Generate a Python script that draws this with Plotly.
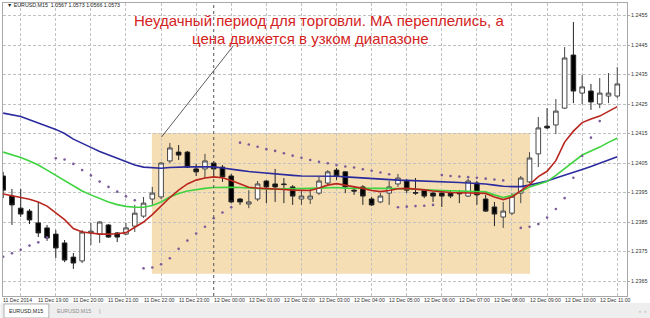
import plotly.graph_objects as go

# ---------------- data (EURUSD M15, 11 Dec 18:00 .. 12 Dec 11:30) ----------------
IDX = list(range(71))

OPEN = [1.24006, 1.23938, 1.23897, 1.23887, 1.23847, 1.23830, 1.23809, 1.23779, 1.23731, 1.23718,
        1.23813, 1.23809, 1.23840, 1.23813, 1.23809, 1.23836, 1.23870, 1.23928, 1.23935, 1.24057,
        1.24087, 1.24087, 1.24030, 1.24030, 1.24050, 1.24036, 1.24006, 1.23928, 1.23911, 1.23928,
        1.23989, 1.23979, 1.23979, 1.23969, 1.23928, 1.23928, 1.23948, 1.23982, 1.24026, 1.24020,
        1.23958, 1.23969, 1.23928, 1.23918, 1.23948, 1.23979, 1.23989, 1.23950, 1.23958, 1.23948,
        1.23948, 1.23948, 1.23948, 1.23938, 1.23982, 1.23928, 1.23901, 1.23867, 1.23880, 1.23948,
        1.23986, 1.24081, 1.24175, 1.24179, 1.24236, 1.24416, 1.24287, 1.24294, 1.24250, 1.24277,
        1.24277]

HIGH = [1.24020, 1.23962, 1.23962, 1.23894, 1.23918, 1.23840, 1.23823, 1.23789, 1.23745, 1.23823,
        1.23847, 1.23853, 1.23843, 1.23816, 1.23847, 1.23908, 1.23935, 1.23969, 1.24053, 1.24118,
        1.24111, 1.24091, 1.24047, 1.24081, 1.24057, 1.24043, 1.24013, 1.23931, 1.23958, 1.23989,
        1.23992, 1.24030, 1.23999, 1.23975, 1.23958, 1.23962, 1.24003, 1.24026, 1.24033, 1.24023,
        1.23972, 1.23975, 1.23935, 1.23948, 1.23989, 1.24013, 1.23996, 1.23999, 1.23962, 1.23952,
        1.23952, 1.23955, 1.23958, 1.23996, 1.23989, 1.23942, 1.23918, 1.23918, 1.23948, 1.24006,
        1.24087, 1.24206, 1.24236, 1.24267, 1.24443, 1.24528, 1.24348, 1.24318, 1.24338, 1.24355,
        1.24375]

LOW = [1.23931, 1.23840, 1.23867, 1.23843, 1.23799, 1.23786, 1.23728, 1.23714, 1.23691, 1.23711,
       1.23772, 1.23779, 1.23796, 1.23782, 1.23806, 1.23816, 1.23864, 1.23908, 1.23928, 1.24050,
       1.24060, 1.24033, 1.24006, 1.23999, 1.24006, 1.23986, 1.23914, 1.23908, 1.23897, 1.23921,
       1.23914, 1.23918, 1.23914, 1.23908, 1.23908, 1.23911, 1.23942, 1.23975, 1.23992, 1.23948,
       1.23942, 1.23908, 1.23904, 1.23914, 1.23908, 1.23969, 1.23948, 1.23942, 1.23931, 1.23918,
       1.23901, 1.23931, 1.23914, 1.23935, 1.23908, 1.23884, 1.23836, 1.23830, 1.23874, 1.23914,
       1.23982, 1.24036, 1.24165, 1.24148, 1.24233, 1.24253, 1.24250, 1.24230, 1.24236, 1.24253,
       1.24270]

CLOSE = [1.23958, 1.23908, 1.23877, 1.23857, 1.23813, 1.23796, 1.23762, 1.23721, 1.23711, 1.23816,
         1.23819, 1.23850, 1.23799, 1.23799, 1.23830, 1.23880, 1.23914, 1.23948, 1.24050, 1.24101,
         1.24077, 1.24036, 1.24020, 1.24057, 1.24030, 1.24003, 1.23918, 1.23918, 1.23918, 1.23979,
         1.23969, 1.23969, 1.23977, 1.23938, 1.23938, 1.23938, 1.23989, 1.24020, 1.24006, 1.23969,
         1.23955, 1.23938, 1.23908, 1.23938, 1.23969, 1.23999, 1.23958, 1.23948, 1.23938, 1.23938,
         1.23938, 1.23938, 1.23946, 1.23989, 1.23942, 1.23887, 1.23877, 1.23887, 1.23938, 1.23999,
         1.24067, 1.24169, 1.24169, 1.24226, 1.24406, 1.24294, 1.24308, 1.24257, 1.24287, 1.24287,
         1.24318]

MA_BLUE = [1.24219, 1.24214, 1.24208, 1.24197, 1.24187, 1.24175, 1.24164, 1.24150, 1.24131, 1.24116,
           1.24103, 1.24089, 1.24077, 1.24065, 1.24053, 1.24043, 1.24036, 1.24033, 1.24032, 1.24035,
           1.24037, 1.24037, 1.24037, 1.24037, 1.24037, 1.24033, 1.24028, 1.24025, 1.24021, 1.24018,
           1.24015, 1.24013, 1.24009, 1.24008, 1.24006, 1.24006, 1.24006, 1.24006, 1.24005, 1.24003,
           1.24001, 1.23998, 1.23997, 1.23996, 1.23994, 1.23992, 1.23991, 1.23990, 1.23990, 1.23989,
           1.23987, 1.23986, 1.23984, 1.23982, 1.23981, 1.23979, 1.23975, 1.23971, 1.23970, 1.23970,
           1.23975, 1.23982, 1.23989, 1.23999, 1.24008, 1.24018, 1.24028, 1.24038, 1.24050, 1.24060,
           1.24071]

MA_GREEN = [1.24087, 1.24079, 1.24069, 1.24057, 1.24043, 1.24026, 1.24008, 1.23989, 1.23972, 1.23955,
            1.23942, 1.23930, 1.23918, 1.23909, 1.23903, 1.23900, 1.23900, 1.23906, 1.23918, 1.23935,
            1.23947, 1.23955, 1.23960, 1.23964, 1.23967, 1.23968, 1.23968, 1.23967, 1.23965, 1.23964,
            1.23962, 1.23962, 1.23962, 1.23962, 1.23962, 1.23964, 1.23965, 1.23967, 1.23967, 1.23965,
            1.23964, 1.23964, 1.23964, 1.23964, 1.23964, 1.23964, 1.23963, 1.23961, 1.23959, 1.23958,
            1.23957, 1.23956, 1.23955, 1.23954, 1.23953, 1.23952, 1.23942, 1.23933, 1.23940, 1.23953,
            1.23969, 1.23979, 1.23987, 1.24008, 1.24031, 1.24055, 1.24077, 1.24091, 1.24104, 1.24120,
            1.24134]

MA_RED = [1.23945, 1.23940, 1.23933, 1.23927, 1.23918, 1.23904, 1.23882, 1.23858, 1.23828, 1.23816,
          1.23813, 1.23809, 1.23809, 1.23810, 1.23814, 1.23831, 1.23850, 1.23875, 1.23904, 1.23933,
          1.23958, 1.23979, 1.23992, 1.23999, 1.24003, 1.24000, 1.23991, 1.23979, 1.23968, 1.23965,
          1.23964, 1.23962, 1.23960, 1.23958, 1.23958, 1.23957, 1.23965, 1.23975, 1.23980, 1.23975,
          1.23970, 1.23964, 1.23957, 1.23953, 1.23957, 1.23963, 1.23964, 1.23962, 1.23959, 1.23955,
          1.23952, 1.23950, 1.23949, 1.23949, 1.23948, 1.23947, 1.23935, 1.23926, 1.23935, 1.23955,
          1.23977, 1.24004, 1.24022, 1.24058, 1.24121, 1.24158, 1.24187, 1.24199, 1.24209, 1.24225,
          1.24241]

SAR = [1.23732, 1.23744, 1.23756, 1.23770, 1.23781, 1.23797, 1.24066, 1.24062, 1.24047, 1.24026,
       1.24008, 1.23987, 1.23969, 1.23953, 1.23937, 1.23924, 1.23693, 1.23696, 1.23707, 1.23727,
       1.23759, 1.23787, 1.23811, 1.23834, 1.23863, 1.23882, 1.23900, 1.24119, 1.24113, 1.24105,
       1.24097, 1.24091, 1.24083, 1.24075, 1.24068, 1.24060, 1.24054, 1.24049, 1.24043, 1.24038,
       1.24035, 1.24029, 1.24024, 1.24018, 1.24012, 1.23900, 1.23902, 1.23904, 1.23905, 1.23908,
       1.24009, 1.24006, 1.24004, 1.24002, 1.24000, 1.23997, 1.23994, 1.23991, None, 1.23830,
       1.23834, 1.23843, 1.23865, 1.23894, 1.23931, 1.24000, 1.24074, 1.24136, 1.24192, None,
       None]

TICK_IDX = [0, 4, 8, 12, 16, 20, 24, 28, 32, 36, 40, 44, 48, 52, 56, 60, 64, 68]
TICK_LABELS = ["11 Dec 2014", "11 Dec 19:00", "11 Dec 20:00", "11 Dec 21:00", "11 Dec 22:00",
               "11 Dec 23:00", "12 Dec 00:00", "12 Dec 01:00", "12 Dec 02:00", "12 Dec 03:00",
               "12 Dec 04:00", "12 Dec 05:00", "12 Dec 06:00", "12 Dec 07:00", "12 Dec 08:00",
               "12 Dec 09:00", "12 Dec 10:00", "12 Dec 11:00"]
Y_TICKS = [1.2365, 1.2375, 1.2385, 1.2395, 1.2405, 1.2415, 1.2425, 1.2435, 1.2445, 1.2455]
DAY_SEPARATOR_IDX = 24
RANGE_BOX = dict(x0=16.95, x1=60.06, y0=1.23675, y1=1.24152)   # flat-market zone
HEADER = "\u25bc EURUSD,M15  1.0567 1.0573 1.0566 1.0573"
NOTE_LINE1 = "Неудачный период для торговли. МА переплелись, а"
NOTE_LINE2 = "цена движется в узком диапазоне"
TAB_ACTIVE = "EURUSD,M15"
TAB_OTHER = "EURUSD,M15"

FONT = "Liberation Sans, Arial, sans-serif"

fig = go.Figure()

# moving averages (drawn first: candles sit on top)
fig.add_trace(go.Scatter(x=IDX, y=MA_BLUE, mode="lines", line=dict(color="#2b2b9e", width=1.6),
                         hoverinfo="skip"))
fig.add_trace(go.Scatter(x=IDX, y=MA_GREEN, mode="lines", line=dict(color="#3fd43f", width=1.6),
                         hoverinfo="skip"))
fig.add_trace(go.Scatter(x=IDX, y=MA_RED, mode="lines", line=dict(color="#b8261e", width=1.6),
                         hoverinfo="skip"))
# parabolic SAR
fig.add_trace(go.Scatter(x=IDX, y=SAR, mode="markers",
                         marker=dict(color="#7a5c9a", size=2.6, line=dict(width=0)),
                         hoverinfo="skip"))
# candles
fig.add_trace(go.Candlestick(
    x=IDX, open=OPEN, high=HIGH, low=LOW, close=CLOSE,
    increasing=dict(fillcolor="#ffffff", line=dict(color="#474747", width=1)),
    decreasing=dict(fillcolor="#000000", line=dict(color="#262626", width=1)),
    whiskerwidth=0, hoverinfo="skip"))

shapes = []
# flat range box (below grid and traces)
shapes.append(dict(type="rect", xref="x", yref="y", layer="below",
                   fillcolor="#f5ddb4", line=dict(width=0), **RANGE_BOX))
# day separator
shapes.append(dict(type="line", xref="x", yref="paper", x0=DAY_SEPARATOR_IDX, x1=DAY_SEPARATOR_IDX,
                   y0=0, y1=1, line=dict(color="#555555", width=1, dash="dot"), layer="above"))
# pointer line from note to the box
shapes.append(dict(type="line", xref="x", yref="y", x0=26.23, y0=1.24447, x1=18.05, y1=1.24138,
                   line=dict(color="#333333", width=0.8)))
# tab bar
shapes.append(dict(type="rect", xref="paper", yref="paper", x0=-0.004, x1=1.04,
                   y0=-0.0751, y1=-0.0239, fillcolor="#eeeeee", line=dict(width=0)))
shapes.append(dict(type="rect", xref="paper", yref="paper", x0=0.0016, x1=0.0735,
                   y0=-0.0751, y1=-0.0273, fillcolor="#ffffff", line=dict(color="#a0a0a0", width=0.8)))

annotations = []
for i, lab in zip(TICK_IDX, TICK_LABELS):
    annotations.append(dict(x=i, xref="x", y=-0.0137, yref="paper", text=lab, showarrow=False,
                            xanchor="left", yanchor="middle", xshift=-2,
                            font=dict(family=FONT, size=5.2, color="#333333")))
annotations.append(dict(x=0.003, xref="paper", y=0.993, yref="paper", text=HEADER, showarrow=False,
                        xanchor="left", yanchor="middle",
                        font=dict(family=FONT, size=5.3, color="#222222")))
annotations.append(dict(x=0.5064, xref="paper", y=0.9386, yref="paper", text=NOTE_LINE1,
                        showarrow=False, xanchor="center", yanchor="middle",
                        font=dict(family=FONT, size=15, color="#d42222")))
annotations.append(dict(x=0.492, xref="paper", y=0.8805, yref="paper", text=NOTE_LINE2,
                        showarrow=False, xanchor="center", yanchor="middle",
                        font=dict(family=FONT, size=15, color="#d42222")))
annotations.append(dict(x=0.0375, xref="paper", y=-0.0512, yref="paper", text=TAB_ACTIVE,
                        showarrow=False, xanchor="center", yanchor="middle",
                        font=dict(family=FONT, size=5.3, color="#222222")))
annotations.append(dict(x=0.1134, xref="paper", y=-0.0512, yref="paper", text=TAB_OTHER,
                        showarrow=False, xanchor="center", yanchor="middle",
                        font=dict(family=FONT, size=5.3, color="#8a8a8a")))
annotations.append(dict(x=0.155, xref="paper", y=-0.0512, yref="paper", text="|",
                        showarrow=False, xanchor="center", yanchor="middle",
                        font=dict(family=FONT, size=6, color="#999999")))
annotations.append(dict(x=1.016, xref="paper", y=-0.0512, yref="paper", text="\u2039  \u203a",
                        showarrow=False, xanchor="left", yanchor="middle",
                        font=dict(family=FONT, size=6, color="#999999")))

fig.update_layout(
    width=650, height=318,
    margin=dict(l=2, r=22, t=3, b=22),
    paper_bgcolor="#ffffff", plot_bgcolor="#ffffff",
    showlegend=False, hovermode=False,
    boxgap=0.25,
    shapes=shapes, annotations=annotations,
    xaxis=dict(range=[-0.02, 71.11], rangeslider=dict(visible=False),
               tickvals=list(range(2, 71, 4)), showticklabels=False, ticks="",
               showgrid=True, gridcolor="#c2c2c2", gridwidth=1, griddash="3px,2px",
               zeroline=False, showline=True, linecolor="#a8a8a8", linewidth=1, mirror=True),
    yaxis=dict(range=[1.235992, 1.245924], side="right",
               tickvals=Y_TICKS, ticktext=[f"{v:.4f}" for v in Y_TICKS],
               tickfont=dict(family=FONT, size=5.4, color="#333333"),
               ticks="outside", ticklen=2, tickcolor="#a8a8a8",
               showgrid=True, gridcolor="#c2c2c2", gridwidth=1, griddash="3px,2px",
               zeroline=False, showline=True, linecolor="#a8a8a8", linewidth=1, mirror=True),
)

fig.write_html("out.html")
